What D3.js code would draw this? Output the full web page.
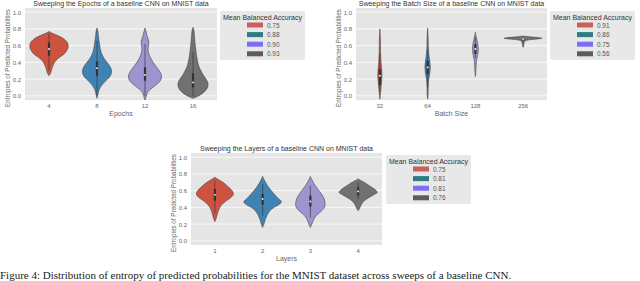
<!DOCTYPE html>
<html>
<head>
    <title>Violin sweeps</title>
    <script src="https://d3js.org/d3.v7.min.js"></script>
    <style>
        body { margin: 0; background: #ffffff; }
        svg text { font-family: "Liberation Sans", Arial, sans-serif; }
    </style>
</head>
<body>
<div id="chart"></div>
<script>
    // Colours for the four violins and the four legend patches
    var violinColors = ["#cd5340", "#3f82b4", "#9d95cf", "#717171"];
    var legendColors = ["#c9605a", "#2e7d7f", "#7b6ff2", "#5c5c5c"];

    var yTicks = [0.0, 0.2, 0.4, 0.6, 0.8, 1.0];

    // Panel 1: epochs
    var epochCats = ["4", "8", "12", "16"];
    var epochLegend = ["0.75", "0.88", "0.90", "0.93"];
    // [entropy, relative density]
    var epochProfiles = [
        [[0.77,0],[0.75,0.15],[0.72,0.45],[0.68,0.78],[0.63,0.97],[0.59,1.0],[0.55,0.95],[0.5,0.79],[0.46,0.55],[0.42,0.35],[0.38,0.24],[0.34,0.17],[0.3,0.12],[0.27,0.08],[0.24,0]],
        [[0.81,0],[0.78,0.04],[0.7,0.08],[0.62,0.13],[0.55,0.18],[0.5,0.25],[0.45,0.36],[0.4,0.52],[0.35,0.68],[0.3,0.76],[0.25,0.72],[0.2,0.55],[0.15,0.33],[0.1,0.17],[0.05,0.08],[0,0.03],[-0.03,0]],
        [[0.81,0],[0.78,0.04],[0.72,0.1],[0.65,0.2],[0.6,0.18],[0.55,0.16],[0.5,0.2],[0.45,0.3],[0.4,0.42],[0.35,0.58],[0.3,0.74],[0.25,0.85],[0.2,0.84],[0.15,0.68],[0.1,0.4],[0.05,0.16],[0,0.07],[-0.06,0]],
        [[0.82,0],[0.78,0.05],[0.7,0.08],[0.6,0.12],[0.5,0.17],[0.4,0.25],[0.35,0.31],[0.3,0.41],[0.25,0.53],[0.2,0.68],[0.15,0.78],[0.1,0.76],[0.05,0.6],[0.0,0.3],[-0.03,0]]
    ];
    // [whisker low, q1, median, q3, whisker high]
    var epochBoxes = [
        [0.3, 0.48, 0.56, 0.64, 0.75],
        [0.0, 0.24, 0.33, 0.41, 0.66],
        [0.0, 0.18, 0.25, 0.34, 0.62],
        [0.0, 0.10, 0.16, 0.27, 0.52]
    ];

    // Panel 2: batch size
    var batchCats = ["32", "64", "128", "256"];
    var batchLegend = ["0.91", "0.86", "0.75", "0.56"];
    var batchProfiles = [
        [[0.8,0],[0.7,0.025],[0.6,0.03],[0.5,0.04],[0.4,0.06],[0.35,0.08],[0.3,0.1],[0.25,0.11],[0.2,0.1],[0.15,0.08],[0.1,0.06],[0.05,0.04],[0,0.02],[-0.04,0]],
        [[0.81,0],[0.7,0.025],[0.6,0.035],[0.5,0.06],[0.45,0.09],[0.4,0.12],[0.35,0.14],[0.3,0.13],[0.25,0.1],[0.2,0.06],[0.1,0.03],[0,0.02],[-0.04,0]],
        [[0.76,0],[0.72,0.03],[0.68,0.07],[0.63,0.12],[0.58,0.15],[0.53,0.15],[0.48,0.11],[0.42,0.06],[0.35,0.035],[0.28,0.02],[0.23,0]],
        [[0.715,0],[0.705,0.35],[0.695,0.85],[0.688,1.0],[0.68,0.75],[0.672,0.4],[0.665,0.2],[0.655,0.1],[0.64,0.06],[0.62,0.04],[0.6,0.03],[0.58,0]]
    ];
    var batchBoxes = [
        [0.05, 0.13, 0.24, 0.32, 0.5],
        [0.1, 0.26, 0.34, 0.42, 0.55],
        [0.45, 0.5, 0.56, 0.62, 0.7],
        [0.64, 0.67, 0.68, 0.69, 0.7]
    ];

    // Panel 3: layers
    var layerCats = ["1", "2", "3", "4"];
    var layerLegend = ["0.75", "0.81", "0.81", "0.76"];
    var layerProfiles = [
        [[0.76,0],[0.74,0.13],[0.7,0.42],[0.65,0.68],[0.6,0.9],[0.56,0.97],[0.52,0.85],[0.47,0.55],[0.42,0.32],[0.37,0.2],[0.32,0.13],[0.27,0.07],[0.23,0]],
        [[0.77,0],[0.73,0.08],[0.68,0.2],[0.62,0.38],[0.56,0.6],[0.5,0.85],[0.47,0.98],[0.44,0.9],[0.4,0.6],[0.35,0.35],[0.3,0.22],[0.25,0.13],[0.2,0.07],[0.16,0]],
        [[0.77,0],[0.73,0.08],[0.68,0.2],[0.62,0.38],[0.56,0.58],[0.5,0.72],[0.45,0.77],[0.4,0.74],[0.35,0.55],[0.3,0.3],[0.25,0.16],[0.2,0.08],[0.16,0]],
        [[0.74,0],[0.72,0.15],[0.69,0.38],[0.65,0.65],[0.61,0.9],[0.58,1.0],[0.55,0.82],[0.51,0.52],[0.47,0.28],[0.43,0.16],[0.39,0.08],[0.36,0]]
    ];
    var layerBoxes = [
        [0.33, 0.48, 0.55, 0.62, 0.72],
        [0.3, 0.43, 0.5, 0.56, 0.68],
        [0.28, 0.41, 0.47, 0.54, 0.66],
        [0.5, 0.54, 0.59, 0.64, 0.7]
    ];

    var svg = d3.select("#chart")
        .append("svg")
        .attr("width", 640)
        .attr("height", 281);

    function drawPanel(p) {
        var g = svg.append("g");
        var x = d3.scaleBand().domain(p.cats).range([p.left, p.right]);
        var y = d3.scaleLinear().domain([-0.05, 1.05]).range([p.bottom, p.top]);
        var w = d3.scaleLinear().domain([0, 1]).range([0, x.bandwidth() * 0.4]);

        var clipId = "clip" + p.id;
        g.append("clipPath").attr("id", clipId)
            .append("rect")
            .attr("x", p.left).attr("y", p.top)
            .attr("width", p.right - p.left).attr("height", p.bottom - p.top);

        // background + grid
        g.append("rect")
            .attr("x", p.left).attr("y", p.top)
            .attr("width", p.right - p.left).attr("height", p.bottom - p.top)
            .attr("fill", "#e5e5e5");

        g.selectAll(".grid")
            .data(yTicks)
            .enter().append("line")
            .attr("x1", p.left).attr("x2", p.right)
            .attr("y1", function(d) { return y(d); })
            .attr("y2", function(d) { return y(d); })
            .attr("stroke", "#ffffff")
            .attr("stroke-width", 0.8);

        // Axes
        var yAxis = g.append("g")
            .attr("transform", "translate(" + p.left + ",0)")
            .call(d3.axisLeft(y).tickValues(yTicks).tickFormat(d3.format(".1f")).tickSize(0).tickPadding(4));
        yAxis.select(".domain").remove();
        yAxis.selectAll("text").style("font-size", "6px").style("fill", "#666666");

        var xAxis = g.append("g")
            .attr("transform", "translate(0," + p.bottom + ")")
            .call(d3.axisBottom(x).tickSize(0).tickPadding(4));
        xAxis.select(".domain").remove();
        xAxis.selectAll("text").style("font-size", "6px").style("fill", "#666666");

        // Titles
        g.append("text")
            .attr("x", (p.left + p.right) / 2)
            .attr("y", p.top - 2)
            .attr("text-anchor", "middle")
            .style("font-size", "7px")
            .style("fill", "#333333")
            .text(p.title);

        g.append("text")
            .attr("x", (p.left + p.right) / 2)
            .attr("y", p.bottom + 16)
            .attr("text-anchor", "middle")
            .style("font-size", "7px")
            .style("fill", "#666666")
            .text(p.xLabel);

        g.append("text")
            .attr("transform", "rotate(-90)")
            .attr("x", -(p.top + p.bottom) / 2 - 4)
            .attr("y", p.left - 15)
            .attr("text-anchor", "middle")
            .style("font-size", "6.3px")
            .style("fill", "#666666")
            .text("Entropies of Predicted Probabilities");

        // Violins
        var vg = g.append("g").attr("clip-path", "url(#" + clipId + ")");
        p.profiles.forEach(function(prof, i) {
            var cx = x(p.cats[i]) + x.bandwidth() / 2;
            var area = d3.area()
                .y(function(d) { return y(d[0]); })
                .x0(function(d) { return cx - w(d[1]); })
                .x1(function(d) { return cx + w(d[1]); })
                .curve(d3.curveCatmullRom);
            vg.append("path")
                .datum(prof)
                .attr("d", area)
                .attr("fill", violinColors[i])
                .attr("stroke", "#444444")
                .attr("stroke-width", 0.6);

            var b = p.boxes[i];
            vg.append("line")
                .attr("x1", cx).attr("x2", cx)
                .attr("y1", y(b[0])).attr("y2", y(b[4]))
                .attr("stroke", "#3a3a3a").attr("stroke-width", 0.7);
            vg.append("line")
                .attr("x1", cx).attr("x2", cx)
                .attr("y1", y(b[1])).attr("y2", y(b[3]))
                .attr("stroke", "#333333").attr("stroke-width", 2.2);
            vg.append("circle")
                .attr("cx", cx).attr("cy", y(b[2]))
                .attr("r", 0.9)
                .attr("fill", "#ffffff");
        });

        // Legend
        var lg = g.append("g").attr("transform", "translate(" + p.legX + "," + p.legY + ")");
        lg.append("rect")
            .attr("width", 85).attr("height", 49)
            .attr("rx", 2)
            .attr("fill", "#e8e8e8");
        lg.append("text")
            .attr("x", 42.5).attr("y", 8.5)
            .attr("text-anchor", "middle")
            .style("font-size", "7px")
            .style("fill", "#333333")
            .text("Mean Balanced Accuracy");
        p.legend.forEach(function(lbl, i) {
            lg.append("rect")
                .attr("x", 27).attr("y", 11.5 + i * 9.6)
                .attr("width", 16).attr("height", 5)
                .attr("fill", legendColors[i]);
            lg.append("text")
                .attr("x", 47).attr("y", 16.5 + i * 9.6)
                .style("font-size", "6.4px")
                .style("fill", "#555555")
                .text(lbl);
        });
    }

    drawPanel({ id: 1, cats: epochCats, legend: epochLegend, profiles: epochProfiles, boxes: epochBoxes,
        title: "Sweeping the Epochs of a baseline CNN on MNIST data", xLabel: "Epochs",
        left: 25, right: 217, top: 8, bottom: 100, legX: 220, legY: 11 });

    drawPanel({ id: 2, cats: batchCats, legend: batchLegend, profiles: batchProfiles, boxes: batchBoxes,
        title: "Sweeping the Batch Size of a baseline CNN on MNIST data", xLabel: "Batch Size",
        left: 356, right: 547, top: 8, bottom: 100, legX: 550, legY: 11 });

    drawPanel({ id: 3, cats: layerCats, legend: layerLegend, profiles: layerProfiles, boxes: layerBoxes,
        title: "Sweeping the Layers of a baseline CNN on MNIST data", xLabel: "Layers",
        left: 191, right: 382, top: 153, bottom: 245, legX: 386, legY: 155 });

    // Figure caption along the bottom edge
    svg.append("text")
        .attr("x", 0)
        .attr("y", 279)
        .style("font-family", "'Liberation Serif', 'Times New Roman', serif")
        .style("font-size", "11px")
        .style("fill", "#222222")
        .text("Figure 4: Distribution of entropy of predicted probabilities for the MNIST dataset across sweeps of a baseline CNN.");
</script>
</body>
</html>
